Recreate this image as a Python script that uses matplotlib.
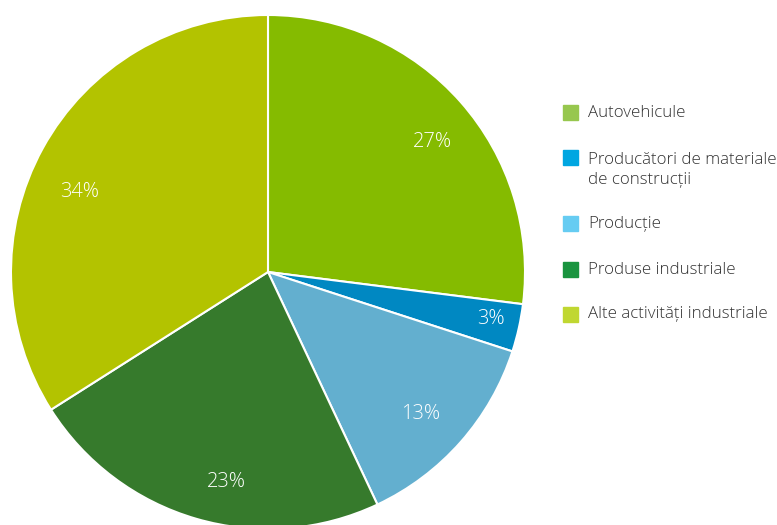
import matplotlib
matplotlib.use("Agg")
import matplotlib.pyplot as plt
from matplotlib.patches import Rectangle

plt.rcParams['font.family'] = ['Open Sans', 'DejaVu Sans']

labels = ["Autovehicule", "Producători de materiale\nde construcții", "Producție",
          "Produse industriale", "Alte activități industriale"]
shares = [27, 3, 13, 23, 34]
slice_colors = ["#85bb00", "#0088c2", "#63afcf", "#367a2c", "#b3c300"]
legend_colors = ["#97c74e", "#00a6e1", "#66ccf2", "#1a943f", "#c0d731"]

# percentage label anchors, in pie-radius units from the centre
label_xy = [(0.640, 0.506), (0.866, -0.181), (0.595, -0.554),
            (-0.160, -0.817), (-0.732, 0.311)]

W, H = 777, 525
fig = plt.figure(figsize=(W / 100, H / 100), dpi=100)

cx, cy, r = 268, 272, 257
ax = fig.add_axes([(cx - r) / W, (H - cy - r) / H, 2 * r / W, 2 * r / H])
wedges, texts, autotexts = ax.pie(
    shares, colors=slice_colors, startangle=90, counterclock=False,
    radius=1.0, autopct=lambda p: f"{p:.0f}%", pctdistance=0.81,
    wedgeprops=dict(edgecolor="white", linewidth=1.5),
    textprops=dict(color="white", fontsize=14.5, fontweight="light"))
ax.set_xlim(-1, 1)
ax.set_ylim(-1, 1)
ax.set_aspect("equal")
ax.axis("off")

for t, xy in zip(autotexts, label_xy):
    t.set_position(xy)

# legend: squares with labels whose first line sits beside the square
square_y = [112.5, 157.5, 223.5, 269, 314]
line_h = 22
for lab, col, y in zip(labels, legend_colors, square_y):
    extra = lab.count("\n") * line_h
    fig.patches.append(Rectangle((563 / W, 1 - (y + 7.5) / H), 15 / W, 15 / H,
                                 transform=fig.transFigure, color=col))
    fig.text(588 / W, 1 - (y + 4.5 + extra) / H, lab, fontsize=12.2,
             fontweight="light", color="#333333", va="baseline", ha="left",
             linespacing=1.3)

fig.savefig("out.png", dpi=100)
